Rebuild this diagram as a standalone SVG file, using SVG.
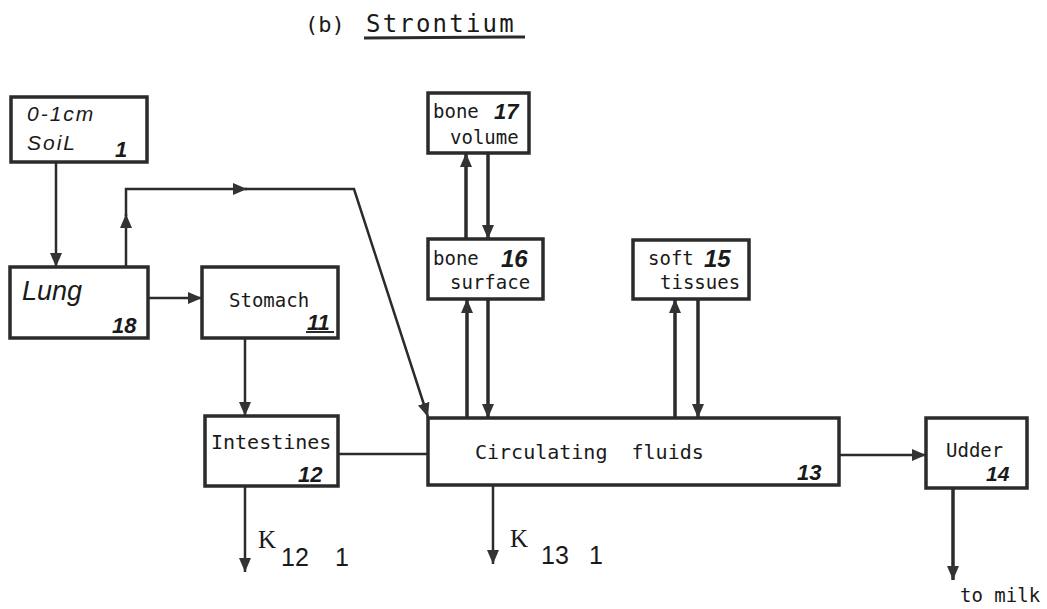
<svg xmlns="http://www.w3.org/2000/svg" width="1047" height="609" viewBox="0 0 1047 609">
<style>
.box{fill:#fff;stroke:#2b2b2b;stroke-width:3.5}
.ln{fill:none;stroke:#2b2b2b;stroke-width:2.5}
.thk{fill:none;stroke:#2b2b2b;stroke-width:3.5}
.t{font-family:"DejaVu Sans Mono","Liberation Mono",monospace;font-size:19px;fill:#1a1a1a}
.h{font-family:"Liberation Sans",Arial,sans-serif;font-style:italic;font-weight:bold;fill:#1a1a1a}
.w{font-family:"Liberation Sans",Arial,sans-serif;font-style:italic;fill:#1a1a1a}
.k{font-family:"Liberation Serif","Times New Roman",serif;font-size:25px;fill:#1a1a1a}
.s{font-family:"Liberation Sans",Arial,sans-serif;font-size:25px;fill:#1a1a1a}
</style>
<defs>
<marker id="a" viewBox="0 0 14 12" refX="14" refY="6" markerWidth="14" markerHeight="12" markerUnits="userSpaceOnUse" orient="auto">
<path d="M0,0 L14,6 L0,12 z" fill="#333"/>
</marker>
</defs>
<rect width="1047" height="609" fill="#fff"/>
<g id="title">
<text x="305" y="32" class="t" style="font-size:22px">(b)</text>
<text x="366" y="32" class="t" style="font-size:24px;letter-spacing:2.2px">Strontium</text>
<line x1="364" y1="38" x2="525" y2="37" stroke="#2b2b2b" stroke-width="3"/>
</g>
<g id="connectors">
<path class="ln" d="M56,162 V267" marker-end="url(#a)"/>
<path class="ln" d="M126,267 V214" marker-end="url(#a)"/>
<path class="ln" d="M126,216 V189 H247" marker-end="url(#a)"/>
<path class="ln" d="M245,189 H354 L428,417" marker-end="url(#a)"/>
<path class="ln" d="M148,298 H202" marker-end="url(#a)"/>
<path class="ln" d="M245,338 V416" marker-end="url(#a)"/>
<path class="ln" d="M338,454 H428"/>
<path class="ln" d="M245,486 V572" marker-end="url(#a)"/>
<path class="ln" d="M493,485 V564" marker-end="url(#a)"/>
<path class="ln" d="M839,455 H926" marker-end="url(#a)"/>
<path class="thk" d="M953,488 V580" marker-end="url(#a)"/>
<path class="thk" d="M466,239 V153" marker-end="url(#a)"/>
<path class="thk" d="M488,153 V239" marker-end="url(#a)"/>
<path class="thk" d="M467,418 V299" marker-end="url(#a)"/>
<path class="thk" d="M488,299 V418" marker-end="url(#a)"/>
<path class="thk" d="M675,418 V299" marker-end="url(#a)"/>
<path class="thk" d="M698,299 V418" marker-end="url(#a)"/>
</g>
<g id="n1">
<rect class="box" x="11" y="97" width="136" height="65"/>
<text x="27" y="121" class="w" style="font-size:21px;letter-spacing:2px">0-1cm</text>
<text x="27" y="150" class="w" style="font-size:21px;letter-spacing:2px">SoiL</text>
<text x="115" y="157" class="h" style="font-size:22px">1</text>
</g>
<g id="n18">
<rect class="box" x="10" y="267" width="138" height="71"/>
<text x="22" y="300" class="w" style="font-size:27px">Lung</text>
<text x="112" y="333" class="h" style="font-size:22px">18</text>
</g>
<g id="n11">
<rect class="box" x="202" y="267" width="136" height="71"/>
<text x="229" y="307" class="t">Stomach</text>
<text x="307" y="330" class="h" style="font-size:22px">11</text>
<line x1="306" y1="332" x2="334" y2="332" stroke="#2b2b2b" stroke-width="2"/>
</g>
<g id="n12">
<rect class="box" x="205" y="416" width="133" height="70"/>
<text x="211" y="449" class="t" style="font-size:20px">Intestines</text>
<text x="298" y="482" class="h" style="font-size:22px">12</text>
</g>
<g id="n13">
<rect class="box" x="428" y="418" width="411" height="67"/>
<text x="475" y="459" class="t" style="font-size:20px" xml:space="preserve">Circulating  fluids</text>
<text x="797" y="480" class="h" style="font-size:22px">13</text>
</g>
<g id="n14">
<rect class="box" x="926" y="418" width="101" height="70"/>
<text x="946" y="457" class="t">Udder</text>
<text x="986" y="481" class="h" style="font-size:21px">14</text>
</g>
<g id="n17">
<rect class="box" x="428" y="93" width="101" height="60"/>
<text x="433" y="118" class="t">bone</text>
<text x="494" y="119" class="h" style="font-size:22px">17</text>
<text x="450" y="144" class="t">volume</text>
</g>
<g id="n16">
<rect class="box" x="428" y="239" width="115" height="60"/>
<text x="433" y="265" class="t">bone</text>
<text x="501" y="267" class="h" style="font-size:24px">16</text>
<text x="450" y="289" class="t">surface</text>
</g>
<g id="n15">
<rect class="box" x="633" y="240" width="116" height="59"/>
<text x="648" y="265" class="t">soft</text>
<text x="704" y="267" class="h" style="font-size:24px">15</text>
<text x="660" y="289" class="t">tissues</text>
</g>
<g id="labels">
<text x="258" y="548" class="k">K</text>
<text x="281" y="566" class="s">12</text>
<text x="335" y="566" class="s">1</text>
<text x="510" y="547" class="k">K</text>
<text x="541" y="564" class="s">13</text>
<text x="589" y="564" class="s">1</text>
<text x="960" y="602" class="t">to milk</text>
</g>
</svg>
